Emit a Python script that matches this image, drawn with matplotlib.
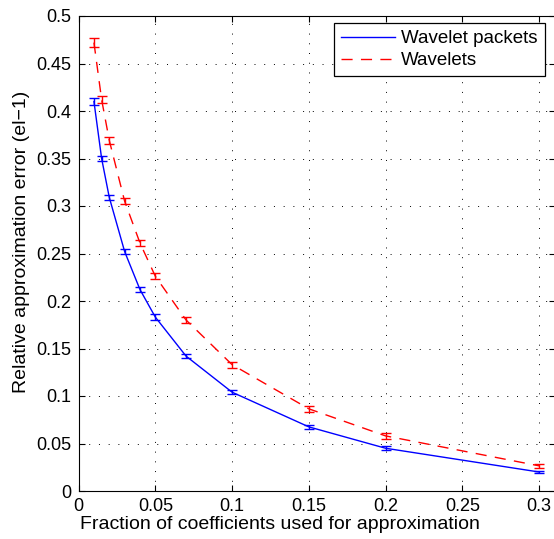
import matplotlib
matplotlib.use("Agg")
import matplotlib.pyplot as plt

plt.rcParams['font.family'] = ['Liberation Sans', 'DejaVu Sans']

fractions = [0.01, 0.015, 0.02, 0.03, 0.04, 0.05, 0.07, 0.1, 0.15, 0.2, 0.3]
packets = [0.410, 0.350, 0.309, 0.252, 0.212, 0.183, 0.142, 0.104, 0.0675, 0.045, 0.020]
packets_err = [0.004, 0.003, 0.003, 0.003, 0.003, 0.003, 0.002, 0.002, 0.002, 0.002, 0.0015]
wavelets = [0.472, 0.412, 0.369, 0.305, 0.261, 0.226, 0.180, 0.133, 0.0865, 0.058, 0.0265]
wavelets_err = [0.005, 0.004, 0.004, 0.003, 0.003, 0.003, 0.003, 0.003, 0.003, 0.003, 0.002]
xticks = [0, 0.05, 0.1, 0.15, 0.2, 0.25, 0.3]
xticklabels = ['0', '0.05', '0.1', '0.15', '0.2', '0.25', '0.3']
yticks = [0, 0.05, 0.1, 0.15, 0.2, 0.25, 0.3, 0.35, 0.4, 0.45, 0.5]
yticklabels = ['0', '0.05', '0.1', '0.15', '0.2', '0.25', '0.3', '0.35', '0.4', '0.45', '0.5']

W, H = 554, 539
fig = plt.figure(figsize=(W / 100, H / 100), dpi=100)
left, right, top, bottom = 78.6, 555.5, 16, 491
ax = fig.add_axes([left / W, (H - bottom) / H, (right - left) / W, (bottom - top) / H])

ax.errorbar(fractions, packets, yerr=packets_err, color='#0000ff', lw=1.0,
            capsize=3.5, elinewidth=1.0, capthick=1.0, label='Wavelet packets')
ax.errorbar(fractions, wavelets, yerr=wavelets_err, color='#ff0000', lw=1.0,
            ls=(0, (8, 6)), capsize=3.5, elinewidth=1.0, capthick=1.0, label='Wavelets')

ax.set_xlim(0, 0.3107)
ax.set_ylim(0, 0.5)
ax.set_xticks(xticks)
ax.set_xticklabels(xticklabels)
ax.set_yticks(yticks)
ax.set_yticklabels(yticklabels)
ax.tick_params(direction='in', length=4, labelsize=13, top=True, right=True, pad=5)
ax.grid(True, color='black', ls=(0, (1, 9)), lw=0.7)
for s in ax.spines.values():
    s.set_linewidth(0.8)

ax.set_xlabel('Fraction of coefficients used for approximation', fontsize=14, labelpad=1)
ax.set_ylabel('Relative approximation error (el\u22121)', fontsize=14, labelpad=5)
ax.xaxis.label.set_x((280 - left) / (right - left))
ax.yaxis.label.set_y((bottom - 241.5) / (bottom - top))

handles, labels = ax.get_legend_handles_labels()
h = [hh[0] for hh in handles]
leg = ax.legend(h, labels, loc='upper right', bbox_to_anchor=(545 / W, 1 - 23 / H),
                bbox_transform=fig.transFigure, borderaxespad=0,
                fontsize=13.5, frameon=True, fancybox=False,
                edgecolor='black', framealpha=1, handlelength=2.9,
                labelspacing=0.26, borderpad=0.38, handletextpad=0.32)
leg.get_frame().set_linewidth(0.9)

fig.savefig('out.png', dpi=100)
